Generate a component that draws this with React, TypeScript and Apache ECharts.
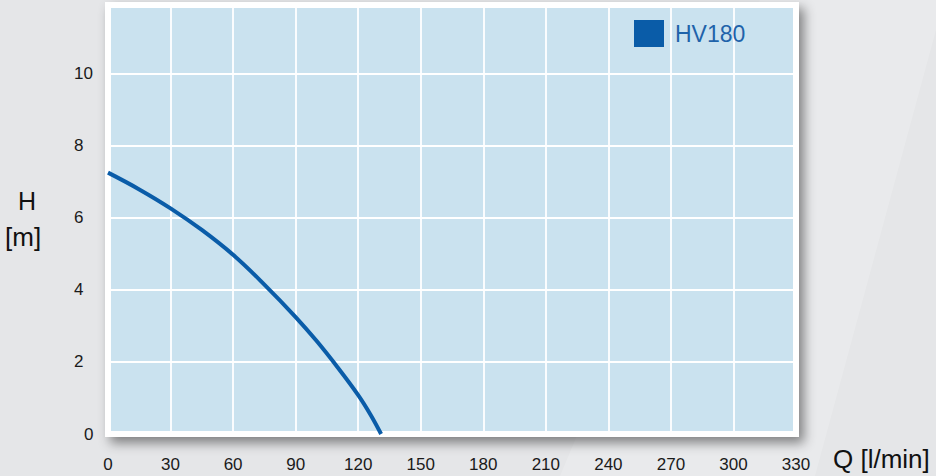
import React, { useEffect, useRef } from "react";
import * as echarts from "echarts";

const seriesName = "HV180";
const flowValues = [0, 15, 30, 45, 60, 75, 90, 100, 110, 120, 126, 131];
const headValues = [7.25, 6.785, 6.26, 5.66, 4.97, 4.145, 3.245, 2.585, 1.86, 1.08, 0.53, 0];
const xTicks = { min: 0, max: 330, interval: 30 };
const yTicks = { min: 0, max: 11.9, interval: 2 };
const xTitle = "Q [l/min]";
const yTitleTop = "H";
const yTitleBottom = "[m]";

const FONT = "'Liberation Sans', Arial, Helvetica, sans-serif";

export default function App() {
  const ref = useRef<HTMLDivElement>(null);
  useEffect(() => {
    if (!ref.current) return;
    const chart = echarts.init(ref.current, null, { renderer: "svg" });
    const data = flowValues.map((q, i) => [q, headValues[i]]);
    chart.setOption({
      animation: false,
      backgroundColor: "#e5e6e8",
      textStyle: { fontFamily: FONT },
      grid: {
        show: true,
        left: 108,
        right: 140,
        top: 5,
        bottom: 42,
        backgroundColor: "#cae2ef",
        borderColor: "#ffffff",
        borderWidth: 6,
        shadowColor: "rgba(0,0,0,0.45)",
        shadowBlur: 12,
        shadowOffsetX: 5,
        shadowOffsetY: 6,
      },
      legend: {
        left: 634,
        top: 20,
        padding: 0,
        icon: "rect",
        itemWidth: 30,
        itemHeight: 27,
        data: [seriesName],
        textStyle: {
          fontSize: 23,
          color: "#1f63aa",
          fontFamily: FONT,
          padding: [2, 0, 0, 6],
        },
      },
      xAxis: {
        type: "value",
        min: xTicks.min,
        max: xTicks.max,
        interval: xTicks.interval,
        axisLine: { show: false },
        axisTick: { show: false },
        axisLabel: {
          fontSize: 17,
          color: "#1a1a1a",
          margin: 22,
          fontFamily: FONT,
        },
        splitLine: { show: true, lineStyle: { color: "#ffffff", width: 1.8 } },
      },
      yAxis: {
        type: "value",
        min: yTicks.min,
        max: yTicks.max,
        interval: yTicks.interval,
        axisLine: { show: false },
        axisTick: { show: false },
        axisLabel: {
          fontSize: 17,
          color: "#1a1a1a",
          margin: 34,
          align: "left",
          showMaxLabel: false,
          fontFamily: FONT,
          formatter: (v: number) => (v === 0 ? "{z|0}" : String(v)),
          rich: {
            z: { padding: [0, 0, 0, 10], fontSize: 17, color: "#1a1a1a", fontFamily: FONT },
          },
        },
        splitLine: { show: true, lineStyle: { color: "#ffffff", width: 1.8 } },
      },
      graphic: [
        {
          type: "polygon",
          silent: true,
          z: -10,
          shape: { points: [[760, 0], [936, 0], [936, 30], [815, 476], [560, 476]] },
          style: { fill: "rgba(255,255,255,0.18)" },
        },
        {
          type: "text",
          left: 18,
          top: 188,
          style: { text: yTitleTop, font: `25px ${FONT}`, fill: "#111111" },
        },
        {
          type: "text",
          left: 5,
          top: 224,
          style: { text: yTitleBottom, font: `26px ${FONT}`, fill: "#111111" },
        },
        {
          type: "text",
          left: 833,
          top: 446,
          style: { text: xTitle, font: `26px ${FONT}`, fill: "#111111" },
        },
      ],
      series: [
        {
          name: seriesName,
          type: "line",
          data,
          smooth: 0.4,
          symbol: "none",
          color: "#0a5ca8",
          lineStyle: { color: "#0a5ca8", width: 4 },
          itemStyle: { color: "#0a5ca8" },
          z: 5,
        },
      ],
    });
    return () => chart.dispose();
  }, []);
  return (
    <div
      ref={ref}
      style={{ position: "fixed", left: 0, top: 0, width: 936, height: 476 }}
    />
  );
}
